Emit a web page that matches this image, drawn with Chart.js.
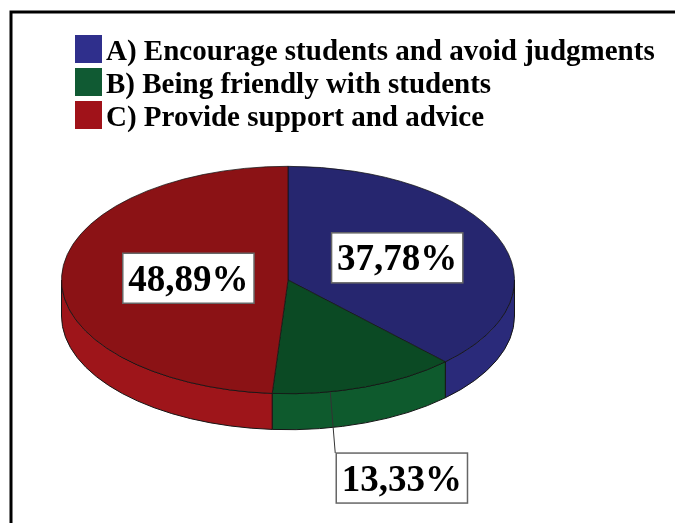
<!DOCTYPE html>
<html>
<head>
<meta charset="utf-8">
<script src="https://cdn.jsdelivr.net/npm/chart.js@4.4.1/dist/chart.umd.min.js"></script>
<style>
  html, body { margin: 0; padding: 0; background: #fff; }
  #wrap { width: 675px; height: 523px; position: relative; }
</style>
</head>
<body>
<div id="wrap"><canvas id="pieChart"></canvas></div>
<script>
// answer options and their share of responses (%)
const labels = [
  'A) Encourage students and avoid judgments',
  'B) Being friendly with students',
  'C) Provide support and advice',
];
const shares = [37.78, 13.33, 48.89];

const topColors = ['#26266f', '#0b4a24', '#8b1215'];
const sideColors = ['#2a2a7a', '#0e5a2d', '#9e151a'];
const keyColors = ['#2f2f8c', '#105a33', '#a01219'];

const TILT = 0.502;   // vertical squash of the disc
const DEPTH = 36;     // wall thickness, px
const SERIF = '"Liberation Serif", "Times New Roman", serif';

// where each value box sits: radius factor along the slice middle, extra drop
const LABEL_PLACE = [
  { r: 0.52 },
  { r: 1.47, dy: 41, leader: true },
  { r: 0.44 },
];

const fmtPct = (v) => v.toFixed(2).replace('.', ',') + '%';

// draws the front wall, then squashes the disc drawn by Chart.js
const pie3d = {
  id: 'pie3d',
  beforeDatasetsDraw(chart) {
    const ctx = chart.ctx;
    const arcs = chart.getDatasetMeta(0).data;
    ctx.save();
    arcs.forEach((arc, i) => {
      const a1 = Math.max(arc.startAngle, 0);
      const a2 = Math.min(arc.endAngle, Math.PI);
      if (a2 <= a1) return;
      const r = arc.outerRadius;
      const ry = r * TILT;
      ctx.beginPath();
      ctx.ellipse(arc.x, arc.y, r, ry, 0, a1, a2);
      ctx.ellipse(arc.x, arc.y + DEPTH, r, ry, 0, a2, a1, true);
      ctx.closePath();
      ctx.fillStyle = sideColors[i];
      ctx.fill();
      ctx.lineWidth = 1;
      ctx.strokeStyle = '#161616';
      ctx.stroke();
    });
    ctx.restore();

    const { x, y } = arcs[0];
    ctx.save();
    ctx.translate(x, y);
    ctx.scale(1, TILT);
    ctx.translate(-x, -y);
  },
  afterDatasetsDraw(chart) {
    chart.ctx.restore();
  },
};

// boxed percentage labels
const valueBoxes = {
  id: 'valueBoxes',
  afterDraw(chart) {
    const ctx = chart.ctx;
    const arcs = chart.getDatasetMeta(0).data;
    const size = 37;
    ctx.save();
    ctx.font = `bold ${size}px ${SERIF}`;
    arcs.forEach((arc, i) => {
      const place = LABEL_PLACE[i];
      const mid = (arc.startAngle + arc.endAngle) / 2;
      const r = arc.outerRadius;
      const cx = arc.x + r * place.r * Math.cos(mid);
      const cy = arc.y + r * TILT * place.r * Math.sin(mid) + (place.dy || 0);
      const text = fmtPct(chart.data.datasets[0].data[i]);
      const w = ctx.measureText(text).width + 11;
      const h = 50;
      const left = cx - w / 2;
      const top = cy - h / 2;

      if (place.leader) {
        const lx = left - 6;
        const dx = (lx - arc.x) / r;
        const rimY = arc.y + r * TILT * Math.sqrt(Math.max(0, 1 - dx * dx));
        ctx.beginPath();
        ctx.moveTo(lx, rimY);
        ctx.lineTo(left - 1, top);
        ctx.lineWidth = 1;
        ctx.strokeStyle = '#333';
        ctx.stroke();
      }

      ctx.fillStyle = '#fff';
      ctx.fillRect(left, top, w, h);
      ctx.lineWidth = 1.5;
      ctx.strokeStyle = '#666';
      ctx.strokeRect(left, top, w, h);

      ctx.fillStyle = '#000';
      ctx.textAlign = 'center';
      ctx.textBaseline = 'alphabetic';
      ctx.fillText(text, cx, cy + size * 0.34);
    });
    ctx.restore();
  },
};

// legend in the top-left corner and the outer frame
const keyAndFrame = {
  id: 'keyAndFrame',
  afterDraw(chart) {
    const ctx = chart.ctx;
    ctx.save();
    ctx.lineWidth = 3;
    ctx.strokeStyle = '#000';
    ctx.strokeRect(11, 12, 700, 600);

    ctx.font = `bold 29px ${SERIF}`;
    ctx.textAlign = 'left';
    ctx.textBaseline = 'alphabetic';
    chart.data.labels.forEach((lab, i) => {
      const y = 35 + i * 33;
      ctx.fillStyle = keyColors[i];
      ctx.fillRect(75, y, 27, 28);
      ctx.fillStyle = '#000';
      ctx.fillText(lab, 106, y + 25);
    });
    ctx.restore();
  },
};

new Chart(document.getElementById('pieChart'), {
  type: 'pie',
  data: {
    labels: labels,
    datasets: [{
      data: shares,
      backgroundColor: topColors,
      borderColor: '#141414',
      borderWidth: 1,
    }],
  },
  options: {
    responsive: true,
    maintainAspectRatio: false,
    animation: false,
    events: [],
    layout: { padding: { left: 61, right: 160, top: 53, bottom: 16 } },
    plugins: {
      legend: { display: false },
      tooltip: { enabled: false },
    },
  },
  plugins: [pie3d, valueBoxes, keyAndFrame],
});
</script>
</body>
</html>
